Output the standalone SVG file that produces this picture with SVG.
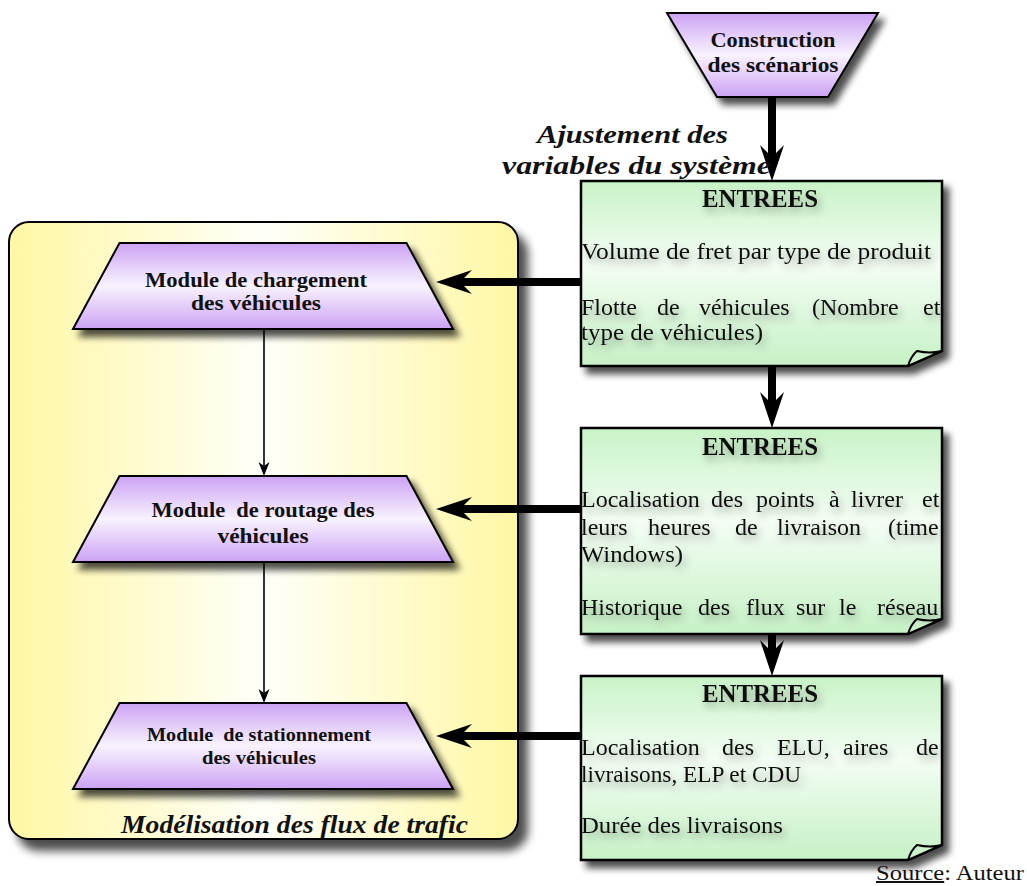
<svg xmlns="http://www.w3.org/2000/svg" width="1027" height="886" viewBox="0 0 1027 886">
<defs>
<style>
.tt{font-family:"Liberation Serif",serif;font-weight:bold;font-size:21px;fill:#111;text-anchor:middle}
.body{font-family:"Liberation Serif",serif;font-size:24px;fill:#111}
.head{font-family:"Liberation Serif",serif;font-weight:bold;font-size:26px;fill:#111;text-anchor:middle}
.lab{font-family:"Liberation Serif",serif;font-weight:bold;font-style:italic;font-size:26px;fill:#111}
.box{fill:url(#gGreen);stroke:#000;stroke-width:2.5}
.flap{fill:#cdf0cd;stroke:#000;stroke-width:2;stroke-linejoin:round}
.trap{fill:url(#gPurple);stroke:#000;stroke-width:2}
.big{stroke:#000;stroke-width:8;fill:none}
.thin{stroke:#000;stroke-width:1.6;fill:none}
</style>
<linearGradient id="gGreen" x1="0" y1="0" x2="0" y2="1">
<stop offset="0" stop-color="#c8f3c8"/>
<stop offset="0.45" stop-color="#f4fdf4"/>
<stop offset="1" stop-color="#c6f1c6"/>
</linearGradient>
<linearGradient id="gPurple" x1="0" y1="0" x2="0" y2="1">
<stop offset="0" stop-color="#cca2f4"/>
<stop offset="0.5" stop-color="#f8f3fe"/>
<stop offset="1" stop-color="#cca2f4"/>
</linearGradient>
<linearGradient id="gYellow" x1="0" y1="0" x2="1" y2="0">
<stop offset="0" stop-color="#fff7a4"/>
<stop offset="0.5" stop-color="#fffffa"/>
<stop offset="1" stop-color="#fff7a4"/>
</linearGradient>
<filter id="sh" x="-10%" y="-10%" width="130%" height="140%">
<feGaussianBlur in="SourceAlpha" stdDeviation="3.5"/>
<feOffset dx="6" dy="7"/>
<feComponentTransfer><feFuncA type="linear" slope="0.7"/></feComponentTransfer>
<feMerge><feMergeNode/><feMergeNode in="SourceGraphic"/></feMerge>
</filter>
<filter id="shC" x="-10%" y="-10%" width="130%" height="130%">
<feGaussianBlur in="SourceAlpha" stdDeviation="5"/>
<feOffset dx="9" dy="11"/>
<feComponentTransfer><feFuncA type="linear" slope="0.7"/></feComponentTransfer>
<feMerge><feMergeNode/><feMergeNode in="SourceGraphic"/></feMerge>
</filter>
<filter id="tsh" x="-10%" y="-30%" width="130%" height="180%">
<feGaussianBlur in="SourceAlpha" stdDeviation="4.5"/>
<feOffset dx="3" dy="5"/>
<feComponentTransfer><feFuncA type="linear" slope="0.35"/></feComponentTransfer>
<feMerge><feMergeNode/><feMergeNode in="SourceGraphic"/></feMerge>
</filter>
<marker id="bigHead" markerUnits="userSpaceOnUse" orient="auto" overflow="visible" markerWidth="40" markerHeight="30" refX="0" refY="0">
<path d="M24,0 L-12,-12 L0,0 L-12,12 Z" fill="#000"/>
</marker>
<marker id="smallHead" markerUnits="userSpaceOnUse" orient="auto" overflow="visible" markerWidth="20" markerHeight="20" refX="0" refY="0">
<path d="M10,0 L-4,-5.5 L0,0 L-4,5.5 Z" fill="#000"/>
</marker>
</defs>

<rect width="1027" height="886" fill="#fff"/>

<g id="container">
<rect x="9" y="222" width="509" height="617" rx="20" ry="20" fill="url(#gYellow)" stroke="#000" stroke-width="2" filter="url(#shC)"/>
<text class="lab" x="121" y="833" textLength="347" lengthAdjust="spacingAndGlyphs">Modélisation des flux de trafic</text>
</g>

<g id="connectors">
<line class="big" x1="772" y1="97" x2="772" y2="157" marker-end="url(#bigHead)"/>
<line class="big" x1="772" y1="366" x2="772" y2="404" marker-end="url(#bigHead)"/>
<line class="big" x1="772" y1="634" x2="772" y2="652" marker-end="url(#bigHead)"/>
<line class="big" x1="582" y1="282" x2="460" y2="282" marker-end="url(#bigHead)"/>
<line class="big" x1="582" y1="509" x2="460" y2="509" marker-end="url(#bigHead)"/>
<line class="big" x1="582" y1="736" x2="460" y2="736" marker-end="url(#bigHead)"/>
<line class="thin" x1="264" y1="329" x2="264" y2="466" marker-end="url(#smallHead)"/>
<line class="thin" x1="264" y1="562" x2="264" y2="693" marker-end="url(#smallHead)"/>
</g>

<g id="construction">
<polygon class="trap" points="667,13 878,13 828,97 717,97" filter="url(#sh)"/>
<text class="tt" x="773" y="47" textLength="125" lengthAdjust="spacingAndGlyphs" style="font-size:20px">Construction</text>
<text class="tt" x="773" y="72" textLength="131" lengthAdjust="spacingAndGlyphs" style="font-size:20px">des scénarios</text>
</g>

<g id="ajustement-label">
<text class="lab" x="537" y="143" textLength="191" lengthAdjust="spacingAndGlyphs">Ajustement des</text>
<text class="lab" x="502" y="174" textLength="269" lengthAdjust="spacingAndGlyphs">variables du système</text>
</g>

<g id="module-chargement">
<polygon class="trap" points="119.5,243 406.5,243 453,329 73,329" filter="url(#sh)"/>
<text class="tt" x="256" y="287" textLength="222" lengthAdjust="spacingAndGlyphs">Module de chargement</text>
<text class="tt" x="256" y="310" textLength="130" lengthAdjust="spacingAndGlyphs">des véhicules</text>
</g>

<g id="module-routage">
<polygon class="trap" points="119.5,476 406.5,476 453,562 73,562" filter="url(#sh)"/>
<text class="tt" x="263" y="517" textLength="223" lengthAdjust="spacingAndGlyphs" xml:space="preserve">Module  de routage des</text>
<text class="tt" x="263" y="543" textLength="91" lengthAdjust="spacingAndGlyphs">véhicules</text>
</g>

<g id="module-stationnement">
<polygon class="trap" points="119.5,703 406.5,703 453,789 73,789" filter="url(#sh)"/>
<text class="tt" x="259" y="741" textLength="224" lengthAdjust="spacingAndGlyphs" xml:space="preserve" style="font-size:18.5px">Module  de stationnement</text>
<text class="tt" x="259" y="764" textLength="114" lengthAdjust="spacingAndGlyphs" style="font-size:18.5px">des véhicules</text>
</g>

<g id="entrees-1">
<path class="box" d="M581,181 H942 V351 L908,366 H581 Z" filter="url(#sh)"/>
<path class="flap" d="M908,366 Q911,356 917,351 Q930,354 942,351 Z"/>
<g filter="url(#tsh)">
<text class="head" x="760" y="207" textLength="116" lengthAdjust="spacingAndGlyphs">ENTREES</text>
<text class="body" x="581" y="259" textLength="350" lengthAdjust="spacingAndGlyphs">Volume de fret par type de produit</text>
<text class="body" y="315"><tspan x="581">Flotte</tspan><tspan x="657">de</tspan><tspan x="699">véhicules</tspan><tspan x="812">(Nombre</tspan><tspan x="923">et</tspan></text>
<text class="body" x="581" y="340" textLength="182" lengthAdjust="spacingAndGlyphs">type de véhicules)</text>
</g>
</g>

<g id="entrees-2">
<path class="box" d="M581,428 H942 V619 L908,634 H581 Z" filter="url(#sh)"/>
<path class="flap" d="M908,634 Q911,624 917,619 Q930,622 942,619 Z"/>
<g filter="url(#tsh)">
<text class="head" x="760" y="455" textLength="116" lengthAdjust="spacingAndGlyphs">ENTREES</text>
<text class="body" y="507"><tspan x="581">Localisation</tspan><tspan x="711">des</tspan><tspan x="756">points</tspan><tspan x="829">à</tspan><tspan x="851">livrer</tspan><tspan x="922">et</tspan></text>
<text class="body" y="535"><tspan x="581">leurs</tspan><tspan x="648">heures</tspan><tspan x="735">de</tspan><tspan x="777">livraison</tspan><tspan x="888">(time</tspan></text>
<text class="body" x="581" y="562" textLength="102" lengthAdjust="spacingAndGlyphs">Windows)</text>
<text class="body" y="615"><tspan x="581">Historique</tspan><tspan x="698">des</tspan><tspan x="746">flux</tspan><tspan x="796">sur</tspan><tspan x="839">le</tspan><tspan x="877">réseau</tspan></text>
</g>
</g>

<g id="entrees-3">
<path class="box" d="M581,676 H942 V845 L908,860 H581 Z" filter="url(#sh)"/>
<path class="flap" d="M908,860 Q911,850 917,845 Q930,848 942,845 Z"/>
<g filter="url(#tsh)">
<text class="head" x="760" y="702" textLength="116" lengthAdjust="spacingAndGlyphs">ENTREES</text>
<text class="body" y="755"><tspan x="581">Localisation</tspan><tspan x="722">des</tspan><tspan x="777">ELU,</tspan><tspan x="843">aires</tspan><tspan x="916">de</tspan></text>
<text class="body" x="581" y="782" textLength="220" lengthAdjust="spacingAndGlyphs">livraisons, ELP et CDU</text>
<text class="body" x="581" y="833" textLength="202" lengthAdjust="spacingAndGlyphs">Durée des livraisons</text>
</g>
</g>

<g id="source">
<text x="876" y="880" textLength="148" lengthAdjust="spacingAndGlyphs" style="font-family:'Liberation Serif',serif;font-size:20px;fill:#111"><tspan text-decoration="underline">Source</tspan>: Auteur</text>
</g>
</svg>
